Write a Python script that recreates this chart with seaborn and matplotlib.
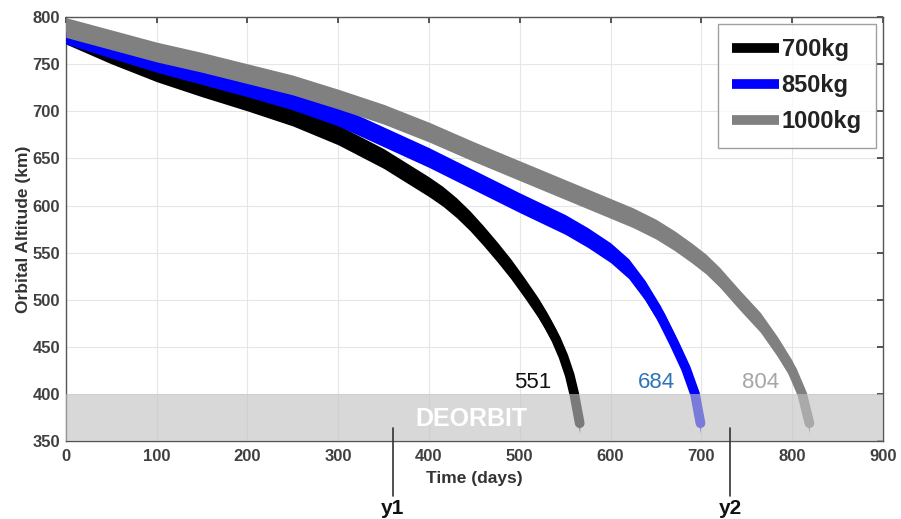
import matplotlib
matplotlib.use("Agg")
import matplotlib.pyplot as plt
import seaborn as sns
import pandas as pd

sns.set_theme(style="whitegrid")
plt.rcParams['font.family'] = ['Liberation Sans', 'DejaVu Sans']

# orbital decay centre lines (days, km)
days_700 = [0, 50, 100, 150, 200, 250, 300, 350, 400, 415, 430, 445, 460, 475, 490, 505, 520, 530, 540, 548, 555, 560, 566]
alt_700 = [782, 761, 742, 726, 711, 695, 675, 650, 620, 610, 598, 584, 568, 551, 533, 513, 492, 476, 458, 440, 420, 400, 369]
days_850 = [0, 50, 100, 150, 200, 250, 300, 350, 400, 450, 500, 550, 575, 600, 620, 638, 655, 670, 683, 693, 699]
alt_850 = [782, 767, 752, 739, 726, 712, 695, 673, 651, 627, 603, 580, 566, 550, 533, 510, 483, 454, 427, 400, 369]
days_1000 = [0, 50, 100, 150, 200, 250, 300, 350, 400, 450, 500, 550, 600, 625, 650, 670, 689, 705, 720, 742, 765, 784, 800, 811, 819]
alt_1000 = [789, 776, 763, 752, 740, 728, 713, 697, 678, 657, 637, 617, 597, 587, 575, 563, 550, 538, 524, 500, 476, 450, 425, 400, 369]

labels = ["700kg", "850kg", "1000kg"]
colors = ["#000000", "#0000ff", "#808080"]
end_vals = ["551", "684", "804"]
end_colors = ["#111111", "#2e75b6", "#a6a6a6"]
end_pos = [(514, 412), (650, 412), (765, 412)]

series = [(days_700, alt_700), (days_850, alt_850), (days_1000, alt_1000)]

fig, ax = plt.subplots(figsize=(9.01, 5.19), dpi=100)
fig.subplots_adjust(left=0.073, right=0.98, top=0.967, bottom=0.15)

band = 10.5  # half thickness of the oscillating swath, km
for i, ((d, a), lab, col) in enumerate(zip(series, labels, colors)):
    df = pd.DataFrame({"Time": d, "Alt": a})
    ax.fill_between(df["Time"], df["Alt"] - band, df["Alt"] + band, color=col,
                    lw=0, zorder=3 + i * 0.1)
    sns.lineplot(data=df, x="Time", y="Alt", color=col, linewidth=7,
                 label=lab, ax=ax, sort=False, solid_capstyle="round",
                 zorder=3 + i * 0.1)

# deorbit zone
ax.axhspan(350, 400, color="#c2c2c2", alpha=0.63, lw=0, zorder=4)
ax.text(447, 374, "DEORBIT", color="white", fontsize=18, fontweight="bold",
        ha="center", va="center", zorder=5)

for v, c, (x, y) in zip(end_vals, end_colors, end_pos):
    ax.text(x, y, v, color=c, fontsize=16, ha="center", va="center", zorder=5)

ax.set_xlim(0, 900)
ax.set_ylim(350, 800)
ax.set_xticks(range(0, 901, 100))
ax.set_yticks(range(350, 801, 50))
ax.set_xlabel("Time (days)", fontsize=12.5, fontweight="bold", color="#333333", labelpad=5)
ax.set_ylabel("Orbital Altitude (km)", fontsize=12.5, fontweight="bold", color="#333333", labelpad=1)
ax.tick_params(axis="both", labelsize=12, colors="#404040", direction="in",
               length=4, top=True, right=True)
ax.tick_params(axis="x", pad=6)
ax.tick_params(axis="y", pad=4)
for t in ax.get_xticklabels() + ax.get_yticklabels():
    t.set_fontweight("bold")
ax.grid(True, color="#e6e6e6", linewidth=0.8)
for s in ax.spines.values():
    s.set_color("#555555")
    s.set_linewidth(1.0)

# y1 / y2 markers below the axis
for x, lab in [(360, "y1"), (732, "y2")]:
    ax.plot([x, x], [364, 292], color="#333333", lw=1.2, clip_on=False, zorder=6)
    ax.text(x, 278, lab, fontsize=15, fontweight="bold", ha="center", va="center",
            color="#111111")

leg = ax.legend(loc="upper right", fontsize=17, frameon=True, fancybox=False,
                edgecolor="#888888", handlelength=2.0, handletextpad=0.1,
                labelspacing=0.55, borderpad=0.6, borderaxespad=0.3)
for h in leg.get_lines():
    h.set_linewidth(7)
    h.set_solid_capstyle("butt")
for t in leg.get_texts():
    t.set_fontweight("bold")
    t.set_color("#222222")
leg.get_frame().set_linewidth(1.0)

plt.savefig("out.png", dpi=100)
